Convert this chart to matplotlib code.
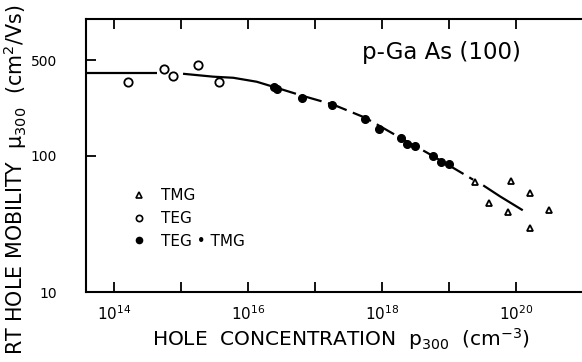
import matplotlib
matplotlib.use("Agg")
import matplotlib.pyplot as plt
from matplotlib.lines import Line2D

plt.rcParams['font.family'] = 'DejaVu Sans'
plt.rcParams['mathtext.default'] = 'regular'

# TEG-grown samples (open circles)
teg_p = [1.62e14, 5.6e14, 7.6e14, 1.78e15, 3.7e15]
teg_mu = [347, 431, 384, 461, 347]

# TEG + TMG samples (filled circles)
mix_p = [2.44e16, 2.71e16, 6.4e16, 1.8e17, 5.6e17, 9.0e17, 1.92e18,
         2.36e18, 3.1e18, 5.8e18, 7.6e18, 1.0e19]
mix_mu = [319, 308, 265, 235, 186, 157, 135, 122, 118, 100, 89, 86]

# TMG-grown samples (open triangles)
tmg_p = [2.44e19, 8.4e19, 1.62e20, 3.95e19, 7.6e19, 3.1e20, 1.62e20]
tmg_mu = [63.5, 64.5, 52.8, 44.7, 38.4, 39.7, 29.3]

# fitted mobility curve, drawn in pieces (solid / dashed / solid)
fit1_p = [10**13.58, 10**14.64]
fit1_mu = [404, 404]
fit2_p = [10**15.03, 10**15.48, 10**15.78, 10**16.13, 10**16.43]
fit2_mu = [397, 378, 371, 347, 313]
fit3_p = [10**16.43, 10**16.81, 10**17.27, 10**17.75, 10**18.27,
          10**18.67, 10**19.0, 10**19.36]
fit3_mu = [313, 274, 236, 189, 135, 105, 84.6, 66.5]
fit4_p = [10**19.51, 10**19.76, 10**20.10]
fit4_mu = [60.4, 50.2, 39.7]

major_x = [1e14, 1e16, 1e18, 1e20]
minor_x = [1e15, 1e17, 1e19]
y_ticks = [10, 100, 500]

fig = plt.figure(figsize=(5.82, 3.62), dpi=100)
# right spine sits just past the edge of the figure
ax = fig.add_axes([86 / 582, 70 / 362, 509 / 582, 273 / 362])
ax.set_xscale('log')
ax.set_yscale('log')
ax.set_xlim(10**13.582, 10**21.178)
ax.set_ylim(10, 1000)

lw = 1.6
ax.plot(fit1_p, fit1_mu, color='black', lw=lw, solid_capstyle='butt')
ax.plot(fit2_p, fit2_mu, color='black', lw=lw, solid_capstyle='butt')
ax.plot(fit3_p, fit3_mu, color='black', lw=lw, dashes=(9, 3))
ax.plot(fit4_p, fit4_mu, color='black', lw=lw, solid_capstyle='butt')

ax.plot(teg_p, teg_mu, 'o', ms=6, mfc='white', mec='black', mew=1.3, ls='none')
ax.plot(mix_p, mix_mu, 'o', ms=5.5, color='black', ls='none')
ax.plot(tmg_p, tmg_mu, '^', ms=5, mfc='white', mec='black', mew=1.3, ls='none')

ax.set_xticks(major_x)
ax.set_xticklabels(['$10^{14}$', '$10^{16}$', '$10^{18}$', '$10^{20}$'], fontsize=11)
ax.set_xticks(minor_x, minor=True)
ax.set_xticklabels([], minor=True)
ax.set_yticks(y_ticks)
ax.set_yticklabels(['10', '100', '500'], fontsize=10)
ax.yaxis.set_minor_locator(matplotlib.ticker.NullLocator())

ax.tick_params(which='both', direction='in', length=7, width=1.3,
               top=True, right=True)
ax.tick_params(axis='x', pad=9)
ax.tick_params(axis='y', pad=21)
for s in ax.spines.values():
    s.set_linewidth(1.5)

fig.text(362 / 582, 1 - 53 / 362, 'p-Ga As (100)', fontsize=16.5,
         ha='left', va='center')

handles = [
    Line2D([], [], marker='^', ms=4.5, mfc='white', mec='black', mew=1.2, ls='none'),
    Line2D([], [], marker='o', ms=4.5, mfc='white', mec='black', mew=1.2, ls='none'),
    Line2D([], [], marker='o', ms=4.5, color='black', ls='none'),
]
ax.legend(handles, ['TMG', 'TEG', 'TEG • TMG'], loc='upper left',
          bbox_to_anchor=(0.06, 0.43), frameon=False, fontsize=11,
          handletextpad=0.8, labelspacing=0.5, handlelength=1.2)

ax.set_xlabel('HOLE  CONCENTRATION  $p_{300}$  (cm$^{-3}$)', fontsize=14.5,
              labelpad=2)

# vertical label, sized so it runs almost the full height of the figure
ylab = fig.text(15 / 582, 1 - 180 / 362,
                'RT HOLE MOBILITY  $\\mu_{300}$  (cm$^{2}$/Vs)',
                rotation=90, ha='center', va='center', fontsize=13)
fig.canvas.draw()
span = ylab.get_window_extent().height
ylab.set_fontsize(13 * 350 / span)

fig.savefig('out.png', dpi=100)
